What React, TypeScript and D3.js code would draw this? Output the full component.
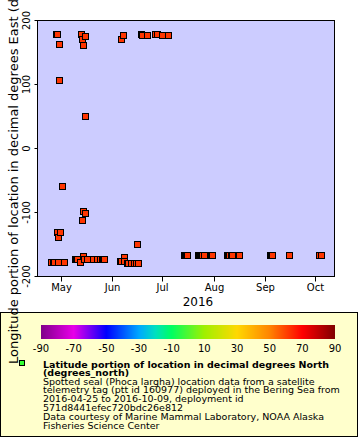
import * as d3 from 'd3'

// seal fixes: time (UTC) and longitude
const fixTimes = [
  '2016-04-25T17', '2016-04-26T22', '2016-04-27T12', '2016-04-28T17', '2016-04-29T07',
  '2016-04-29T08', '2016-04-29T12', '2016-04-29T14', '2016-04-30T00', '2016-04-30T05',
  '2016-04-30T17', '2016-05-01T19', '2016-05-03T12', '2016-05-09T19', '2016-05-10T10',
  '2016-05-11T00', '2016-05-13T00', '2016-05-13T05', '2016-05-14T06', '2016-05-14T09',
  '2016-05-14T12', '2016-05-14T14', '2016-05-14T16', '2016-05-15T10', '2016-05-15T16',
  '2016-05-15T17', '2016-05-15T19', '2016-05-17T05', '2016-05-20T19', '2016-05-22T22',
  '2016-05-24T19', '2016-05-25T22', '2016-05-26T12', '2016-05-27T02', '2016-06-06T02',
  '2016-06-06T06', '2016-06-06T19', '2016-06-07T12', '2016-06-08T02', '2016-06-08T07',
  '2016-06-10T07', '2016-06-10T22', '2016-06-12T19', '2016-06-14T14', '2016-06-15T19',
  '2016-06-15T22', '2016-06-16T22', '2016-06-18T12', '2016-06-19T10', '2016-06-22T10',
  '2016-06-26T22', '2016-06-28T02', '2016-07-01T10', '2016-07-04T17', '2016-07-14T14',
  '2016-07-15T05', '2016-07-15T19', '2016-07-16T10', '2016-07-23T00', '2016-07-23T14',
  '2016-07-24T05', '2016-07-24T19', '2016-07-25T10', '2016-07-26T14', '2016-07-29T19',
  '2016-07-30T10', '2016-07-31T00', '2016-07-31T14', '2016-08-09T10', '2016-08-10T00',
  '2016-08-10T14', '2016-08-11T19', '2016-08-12T10', '2016-08-16T14', '2016-09-04T07',
  '2016-09-04T22', '2016-09-05T12', '2016-09-15T12', '2016-10-03T17', '2016-10-04T22',
]
const fixLon = [
  -178.9, -178.9, -178.9, 178.1, 178.1,
  -132, -139.5, -178.9, 106.7, 162.5,
  -130.5, -58.9, -178.9, -174.2, -174.2,
  -174.2, -177.6, 178.1, 169.7, -112,
  160.2, -98.4, -169, -173.4, -101.3,
  175.3, 50.5, -173.4, -173.9, -173.9,
  -173.4, -173.4, -173.4, -173.4, -175.8,
  170.3, -175.8, 177.3, -169.8, -176.9,
  -179.4, -179.4, -179.4, -179.4, -179.4,
  -149.5, -179.4, 178.1, 177.3, 177.3,
  178.1, 178.1, 177.3, 177.3, -166.7,
  -166.7, -166.7, -166.7, -166.7, -166.7,
  -166.7, -166.7, -166.7, -166.7, -166.7,
  -166.7, -166.7, -166.7, -166.7, -166.7,
  -166.7, -166.7, -166.7, -166.7, -166.7,
  -166.7, -166.7, -166.7, -166.7, -166.7,
]
// every fix sits near 62 N, which is what sets the marker colour
const fixLat = 62

const monthTicks = ['2016-05-01', '2016-06-01', '2016-07-01', '2016-08-01', '2016-09-01', '2016-10-01']
const monthLabels = ['May', 'Jun', 'Jul', 'Aug', 'Sep', 'Oct']
const lonTicks = [200, 100, 0, -100, -200]
const latTicks = [-90, -70, -50, -30, -10, 10, 30, 50, 70, 90]
const paletteStops = [-90, -70, -50, -30, -20, -10, 10, 30, 50, 70, 90]
const paletteColors = ['#80008a', '#e800e8', '#0000ff', '#00a8ff', '#00e0c0', '#00ff60', '#a0f000', '#ffd800', '#ff8400', '#ff0000', '#800000']

const legendLines = [
  'Spotted seal (Phoca largha) location data from a satellite',
  'telemetry tag (ptt id 160977) deployed in the Bering Sea from',
  '2016-04-25 to 2016-10-09, deployment id',
  '571d8441efec720bdc26e812',
  'Data courtesy of Marine Mammal Laboratory, NOAA Alaska',
  'Fisheries Science Center',
]

const parseHour = d3.utcParse('%Y-%m-%dT%H')
const parseDay = d3.utcParse('%Y-%m-%d')

export default function App() {
  const width = 360
  const height = 440
  const plot = { left: 37.5, top: 20.5, right: 334.5, bottom: 276.5 }

  const x = d3
    .scaleUtc()
    .domain([parseDay('2016-04-17')!, parseDay('2016-10-13')!])
    .range([plot.left, plot.right + 0.5])
  const y = d3.scaleLinear().domain([-200, 200]).range([plot.bottom, plot.top])

  const palette = d3.scaleLinear<string>().domain(paletteStops).range(paletteColors)
  const bar = { left: 41, right: 335, top: 325, bottom: 339 }
  const cb = d3.scaleLinear().domain([-90, 90]).range([bar.left, bar.right])
  const barPixels = d3.range(bar.left, bar.right)

  const fixes = fixTimes.map((t, i) => ({ t: parseHour(t)!, lon: fixLon[i] }))
  const font = 'DejaVu Sans, sans-serif'

  return (
    <div style={{ position: 'absolute', left: 0, top: 0 }}>
      <svg width={width} height={height} style={{ display: 'block', background: '#fff' }}>
        <defs>
          <clipPath id="plot-clip">
            <rect x={plot.left} y={plot.top} width={plot.right - plot.left} height={plot.bottom - plot.top} />
          </clipPath>
        </defs>

        {/* plot area */}
        <rect x={plot.left} y={plot.top} width={plot.right - plot.left} height={plot.bottom - plot.top} fill="#ccccff" />

        <g clipPath="url(#plot-clip)">
          {fixes.map((d, i) => (
            <rect
              key={i}
              x={Math.round(x(d.t) - 3.5) + 0.5}
              y={Math.round(y(d.lon) - 3.5) + 0.5}
              width={6}
              height={6}
              fill={palette(fixLat)}
              stroke="#000"
              strokeWidth={1}
            />
          ))}
        </g>

        <rect x={plot.left} y={plot.top} width={plot.right - plot.left} height={plot.bottom - plot.top} fill="none" stroke="#000" />

        {/* x axis */}
        {monthTicks.map((m, i) => {
          const px = Math.round(x(parseDay(m)!)) + 0.5
          return (
            <g key={m}>
              <line x1={px} x2={px} y1={plot.bottom} y2={plot.bottom + 5} stroke="#000" />
              <text x={px} y={291} textAnchor="middle" fontFamily={font} fontSize={10}>
                {monthLabels[i]}
              </text>
            </g>
          )
        })}
        <text x={198} y={306} textAnchor="middle" fontFamily={font} fontSize={12}>
          2016
        </text>

        {/* y axis */}
        {lonTicks.map(v => {
          const py = Math.round(y(v) - 0.5) + 0.5
          return (
            <g key={v}>
              <line x1={plot.left - 3} x2={plot.left} y1={py} y2={py} stroke="#000" />
              <text
                transform={`translate(30, ${py}) rotate(-90)`}
                textAnchor="middle"
                fontFamily={font}
                fontSize={10}
              >
                {v}
              </text>
            </g>
          )
        })}

        {/* legend */}
        <rect x={0.5} y={312.5} width={357} height={124} fill="#ffffcc" stroke="#000" />
        {barPixels.map(px => (
          <rect key={px} x={px} y={bar.top} width={1} height={bar.bottom - bar.top} fill={palette(cb.invert(px + 0.5))} />
        ))}
        {latTicks.map(v => (
          <text key={v} x={cb(v)} y={352} textAnchor="middle" fontFamily={font} fontSize={10}>
            {v}
          </text>
        ))}
        <rect x={19.5} y={360.5} width={5} height={5} fill="#33ff33" stroke="#000" />
        <text x={43} y={367.5} fontFamily={font} fontSize={9.5} fontWeight="bold">
          Latitude portion of location in decimal degrees North
        </text>
        <text x={43} y={376} fontFamily={font} fontSize={9.5} fontWeight="bold">
          (degrees_north)
        </text>
        {legendLines.map((line, i) => (
          <text key={i} x={43} y={384.5 + i * 8.9} fontFamily={font} fontSize={9.5}>
            {line}
          </text>
        ))}

        {/* y axis title, runs off the top like the original */}
        <text transform="translate(18, 364) rotate(-90)" fontFamily={font} fontSize={13}>
          Longitude portion of location in decimal degrees East (degrees_east)
        </text>
      </svg>
    </div>
  )
}
